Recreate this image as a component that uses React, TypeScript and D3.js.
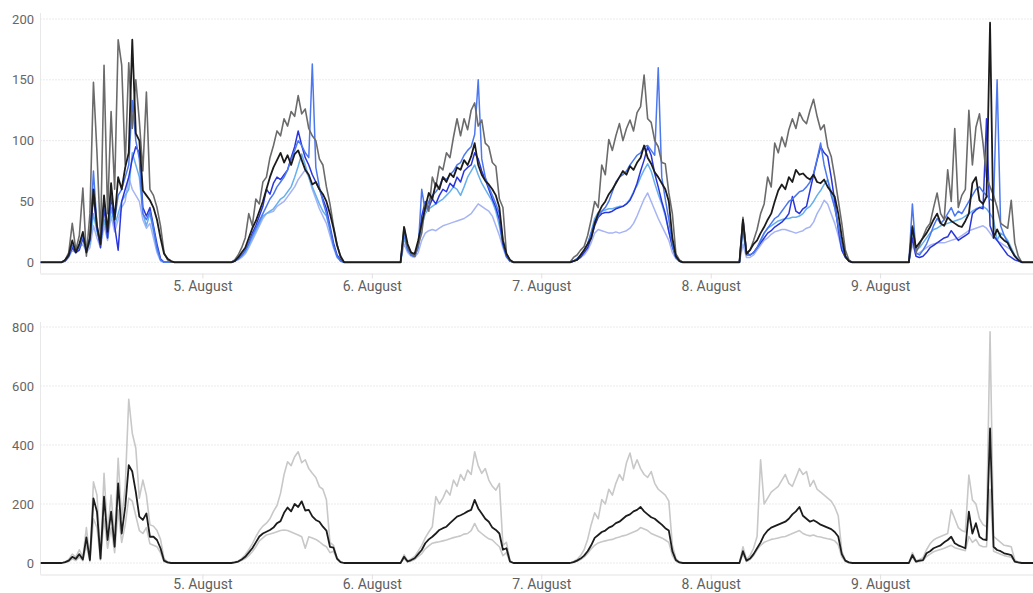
import React from "react";
import * as d3 from "d3";

const WIDTH = 1033;
const HEIGHT = 593;

// Daylight readings, one array per day (4.–9. August), 30-minute steps from 04:00
const dayNumbers = [4, 5, 6, 7, 8, 9];
const dayStartHour = 4;
const stepMinutes = 30;
const rangeStart = Date.UTC(2020, 7, 4, 1, 0);
const rangeEnd = Date.UTC(2020, 7, 9, 21, 35);

const topTicks = [0, 50, 100, 150, 200];
const bottomTicks = [0, 200, 400, 600, 800];

const topGrey = [
  [0, 2, 8, 32, 10, 22, 61, 5, 40, 148, 90, 20, 162, 40, 124, 60, 183, 162, 80, 164, 110, 150, 116, 75, 140, 60, 55, 45, 30, 8, 2, 0, 0],
  [0, 2, 6, 12, 20, 40, 30, 52, 48, 66, 70, 86, 96, 108, 104, 118, 112, 124, 120, 137, 122, 126, 110, 104, 100, 85, 80, 62, 48, 30, 15, 4, 0],
  [0, 29, 12, 8, 5, 14, 24, 48, 42, 70, 62, 79, 76, 90, 86, 103, 118, 104, 118, 109, 125, 131, 112, 117, 98, 95, 82, 79, 52, 45, 7, 2, 0],
  [0, 4, 6, 10, 13, 22, 35, 50, 45, 80, 72, 101, 92, 104, 114, 100, 110, 117, 108, 123, 128, 154, 118, 115, 100, 95, 82, 81, 57, 40, 7, 2, 0],
  [0, 37, 8, 10, 18, 27, 40, 48, 70, 62, 98, 90, 103, 95, 109, 118, 110, 123, 117, 114, 125, 134, 120, 109, 113, 95, 87, 70, 51, 32, 10, 2, 0],
  [0, 30, 8, 14, 21, 28, 32, 45, 57, 40, 35, 76, 50, 110, 45, 55, 60, 125, 80, 111, 122, 98, 70, 62, 55, 45, 32, 30, 28, 51, 16, 5, 0],
];

const topBlack = [
  [0, 2, 6, 18, 8, 15, 25, 8, 20, 60, 30, 15, 55, 25, 65, 35, 70, 60, 78, 90, 183, 106, 100, 59, 55, 51, 45, 35, 20, 7, 3, 1, 0],
  [0, 1, 4, 8, 12, 20, 28, 34, 42, 50, 60, 70, 78, 84, 90, 82, 88, 80, 89, 92, 84, 76, 72, 64, 66, 60, 56, 50, 40, 28, 14, 5, 0],
  [0, 29, 15, 8, 7, 18, 32, 45, 57, 52, 65, 60, 70, 66, 73, 70, 78, 76, 84, 80, 87, 98, 80, 72, 67, 64, 60, 55, 45, 18, 7, 2, 0],
  [0, 1, 2, 6, 10, 15, 20, 32, 40, 46, 50, 56, 60, 65, 70, 75, 72, 79, 76, 82, 86, 96, 86, 81, 74, 70, 65, 60, 50, 20, 5, 1, 0],
  [0, 35, 7, 10, 15, 18, 24, 29, 35, 40, 50, 59, 64, 60, 70, 66, 76, 72, 73, 70, 68, 72, 66, 65, 68, 62, 58, 54, 40, 21, 5, 1, 0],
  [0, 29, 12, 16, 20, 24, 29, 35, 40, 32, 30, 37, 34, 32, 30, 29, 34, 40, 65, 70, 51, 48, 54, 197, 20, 27, 21, 18, 16, 10, 5, 2, 0],
];

const topRoyal = [
  [0, 1, 5, 12, 8, 10, 20, 10, 18, 55, 28, 12, 45, 20, 55, 30, 10, 50, 60, 70, 85, 95, 90, 45, 38, 45, 30, 15, 3, 0, 0, 0, 0],
  [0, 1, 3, 6, 10, 16, 24, 30, 38, 46, 60, 56, 65, 70, 68, 72, 76, 86, 95, 108, 96, 86, 80, 72, 66, 60, 52, 44, 30, 16, 6, 2, 0],
  [0, 25, 12, 6, 5, 15, 38, 50, 45, 52, 48, 55, 60, 58, 65, 62, 70, 66, 75, 78, 80, 90, 85, 75, 68, 60, 52, 45, 35, 15, 5, 1, 0],
  [0, 1, 2, 4, 8, 12, 20, 30, 37, 40, 41, 41, 42, 44, 45, 46, 48, 51, 57, 65, 75, 84, 95, 88, 73, 62, 50, 40, 25, 13, 4, 1, 0],
  [0, 35, 8, 6, 8, 12, 16, 20, 24, 26, 29, 31, 33, 36, 40, 54, 42, 40, 44, 46, 59, 72, 84, 95, 90, 87, 70, 50, 27, 10, 4, 1, 0],
  [0, 20, 5, 4, 5, 8, 12, 14, 16, 18, 20, 21, 26, 22, 18, 20, 22, 24, 40, 43, 45, 44, 118, 30, 22, 18, 14, 10, 6, 4, 2, 1, 0],
];

const topCornflower = [
  [0, 2, 6, 14, 10, 12, 22, 12, 20, 75, 30, 15, 50, 25, 60, 35, 55, 60, 70, 80, 133, 100, 85, 40, 35, 42, 28, 12, 2, 0, 0, 0, 0],
  [0, 1, 3, 6, 10, 16, 22, 28, 34, 40, 46, 52, 56, 62, 66, 70, 76, 84, 92, 100, 96, 90, 86, 163, 78, 62, 50, 40, 28, 14, 5, 1, 0],
  [0, 24, 10, 6, 5, 12, 60, 42, 50, 55, 58, 62, 70, 68, 72, 75, 80, 82, 88, 92, 95, 105, 150, 85, 70, 62, 55, 48, 40, 18, 6, 1, 0],
  [0, 1, 3, 6, 10, 15, 24, 34, 38, 42, 45, 50, 58, 66, 70, 72, 75, 80, 84, 88, 90, 95, 96, 92, 88, 160, 70, 52, 35, 14, 4, 1, 0],
  [0, 30, 6, 6, 8, 12, 18, 24, 28, 32, 36, 38, 42, 46, 50, 52, 55, 58, 59, 62, 66, 73, 85, 98, 80, 68, 55, 45, 30, 14, 5, 1, 0],
  [0, 48, 8, 6, 10, 15, 22, 30, 36, 32, 35, 40, 45, 38, 42, 40, 45, 50, 55, 60, 62, 58, 55, 52, 50, 150, 30, 22, 16, 10, 5, 2, 0],
];

const topSky = [
  [0, 2, 5, 12, 10, 15, 18, 10, 15, 40, 25, 15, 35, 20, 45, 30, 40, 50, 55, 60, 90, 80, 70, 40, 30, 40, 25, 10, 2, 0, 0, 0, 0],
  [0, 1, 3, 5, 8, 14, 20, 26, 32, 38, 40, 42, 44, 48, 52, 54, 58, 62, 70, 79, 89, 80, 70, 62, 55, 48, 42, 38, 26, 14, 5, 1, 0],
  [0, 20, 10, 6, 5, 12, 30, 40, 44, 46, 48, 50, 52, 55, 58, 62, 60, 55, 62, 70, 75, 80, 72, 65, 60, 55, 50, 42, 30, 14, 5, 1, 0],
  [0, 1, 3, 6, 10, 15, 25, 36, 41, 42, 43, 44, 44, 45, 46, 46, 48, 52, 58, 63, 70, 76, 81, 75, 65, 56, 48, 38, 26, 13, 4, 1, 0],
  [0, 25, 6, 6, 8, 12, 18, 24, 28, 30, 32, 34, 35, 36, 36, 37, 37, 38, 40, 44, 46, 50, 55, 59, 64, 68, 58, 45, 30, 14, 5, 1, 0],
  [0, 25, 10, 12, 16, 20, 24, 27, 28, 30, 31, 32, 33, 34, 35, 36, 38, 40, 42, 44, 45, 46, 44, 40, 35, 18, 24, 22, 18, 12, 6, 2, 0],
];

const topLavender = [
  [0, 1, 4, 10, 8, 12, 15, 8, 12, 30, 20, 12, 30, 18, 38, 25, 35, 45, 50, 70, 60, 55, 50, 35, 28, 32, 20, 8, 1, 0, 0, 0, 0],
  [0, 1, 2, 4, 7, 12, 18, 24, 30, 36, 40, 41, 42, 46, 48, 50, 54, 58, 62, 68, 72, 76, 70, 60, 52, 44, 38, 32, 22, 12, 4, 1, 0],
  [0, 15, 8, 5, 4, 8, 18, 24, 26, 27, 26, 28, 30, 31, 32, 33, 34, 35, 36, 38, 40, 44, 48, 46, 44, 42, 38, 30, 22, 12, 4, 1, 0],
  [0, 1, 2, 4, 6, 10, 16, 24, 27, 26, 25, 24, 24, 25, 24, 25, 26, 28, 32, 38, 45, 52, 57, 50, 43, 36, 30, 24, 18, 8, 3, 1, 0],
  [0, 15, 4, 4, 6, 10, 14, 18, 20, 23, 25, 26, 27, 27, 26, 25, 24, 25, 26, 28, 29, 33, 40, 45, 51, 48, 40, 32, 22, 10, 4, 1, 0],
  [0, 15, 6, 8, 10, 12, 14, 15, 16, 16, 16, 17, 18, 19, 20, 22, 24, 26, 27, 28, 29, 30, 28, 24, 20, 18, 16, 14, 12, 10, 5, 2, 0],
];

const bottomMax = [
  [0, 4, 12, 30, 20, 45, 20, 120, 15, 275, 230, 25, 304, 100, 230, 80, 355, 150, 260, 555, 440, 389, 220, 281, 230, 130, 125, 110, 80, 15, 4, 0, 0],
  [0, 3, 7, 15, 28, 45, 65, 89, 110, 125, 135, 150, 175, 195, 236, 300, 343, 330, 360, 377, 340, 350, 320, 304, 290, 259, 250, 214, 70, 60, 18, 4, 0],
  [0, 28, 7, 14, 22, 40, 60, 85, 105, 123, 225, 200, 220, 247, 230, 281, 260, 300, 280, 315, 300, 377, 330, 304, 320, 281, 260, 247, 270, 60, 70, 8, 0],
  [0, 5, 12, 25, 45, 80, 130, 170, 150, 215, 200, 250, 230, 270, 300, 280, 340, 373, 320, 350, 320, 300, 290, 310, 270, 250, 240, 230, 210, 60, 15, 3, 0],
  [0, 55, 12, 25, 50, 90, 350, 200, 220, 240, 250, 260, 280, 300, 270, 260, 290, 320, 300, 310, 260, 280, 250, 240, 230, 220, 210, 190, 160, 40, 10, 2, 0],
  [0, 35, 8, 12, 18, 45, 65, 78, 85, 90, 95, 100, 180, 151, 120, 110, 105, 298, 214, 200, 150, 130, 123, 784, 90, 80, 70, 60, 58, 55, 10, 3, 0],
];

const bottomMean = [
  [0, 3, 8, 21, 14, 30, 12, 87, 10, 219, 174, 15, 225, 78, 174, 55, 270, 100, 190, 332, 310, 241, 157, 146, 168, 89, 89, 78, 50, 8, 2, 0, 0],
  [0, 2, 5, 12, 21, 35, 50, 70, 90, 100, 106, 112, 120, 135, 142, 170, 188, 175, 200, 190, 209, 178, 180, 158, 146, 140, 123, 110, 55, 52, 15, 3, 0],
  [0, 21, 5, 10, 16, 30, 44, 67, 80, 89, 100, 112, 118, 123, 135, 146, 157, 162, 168, 175, 180, 214, 185, 168, 150, 140, 120, 112, 100, 45, 50, 5, 0],
  [0, 3, 8, 15, 25, 40, 60, 85, 95, 105, 110, 120, 125, 135, 140, 150, 160, 165, 175, 180, 190, 175, 165, 155, 150, 140, 130, 118, 110, 40, 10, 2, 0],
  [0, 40, 8, 15, 30, 50, 70, 95, 110, 120, 125, 130, 135, 140, 150, 165, 175, 190, 160, 150, 140, 145, 138, 130, 125, 120, 115, 105, 90, 30, 8, 2, 0],
  [0, 27, 5, 8, 10, 33, 40, 50, 55, 60, 70, 78, 89, 67, 60, 55, 50, 174, 100, 135, 89, 80, 78, 456, 55, 44, 40, 33, 30, 27, 5, 2, 0],
];

const bottomMin = [
  [0, 2, 5, 14, 8, 20, 8, 60, 5, 150, 120, 10, 150, 50, 120, 35, 180, 70, 130, 220, 210, 160, 110, 100, 120, 65, 60, 55, 35, 4, 1, 0, 0],
  [0, 1, 4, 9, 15, 25, 38, 55, 75, 85, 95, 98, 102, 106, 110, 112, 110, 105, 100, 95, 89, 50, 89, 85, 80, 72, 62, 55, 35, 40, 12, 2, 0],
  [0, 15, 3, 7, 12, 22, 32, 48, 58, 67, 70, 72, 75, 78, 82, 86, 89, 92, 98, 100, 110, 134, 110, 100, 90, 82, 78, 66, 55, 25, 35, 3, 0],
  [0, 2, 6, 12, 20, 32, 48, 60, 68, 72, 75, 78, 80, 85, 88, 92, 95, 100, 105, 110, 120, 115, 110, 100, 95, 90, 85, 78, 70, 25, 6, 1, 0],
  [0, 30, 5, 12, 25, 45, 60, 70, 75, 80, 82, 85, 88, 90, 95, 100, 105, 110, 100, 95, 92, 95, 90, 88, 85, 82, 80, 75, 62, 20, 5, 1, 0],
  [0, 20, 3, 5, 8, 22, 30, 38, 42, 46, 50, 55, 60, 52, 48, 45, 42, 90, 70, 80, 60, 55, 55, 250, 40, 35, 30, 25, 22, 20, 4, 1, 0],
];

type Pt = { t: Date; v: number };

// Night hours read as zero; the domain edges carry that zero level too.
function toPoints(days: number[][]): Pt[] {
  const pts: Pt[] = [{ t: new Date(rangeStart), v: 0 }];
  days.forEach((vals, k) => {
    const base = Date.UTC(2020, 7, dayNumbers[k], dayStartHour);
    vals.forEach((v, i) => pts.push({ t: new Date(base + i * stepMinutes * 60000), v }));
  });
  pts.push({ t: new Date(rangeEnd), v: 0 });
  return pts;
}

const plotLeft = 40.5;
const plotRight = WIDTH;
const x = d3.scaleUtc().domain([new Date(rangeStart), new Date(rangeEnd)]).range([plotLeft, plotRight]);
const dayTicks = x.ticks(d3.utcDay.every(1)!);
const fmtDay = d3.utcFormat("%-d. %B");

const FONT = "Roboto, 'Noto Sans', Arial, sans-serif";

type SeriesDef = { key: string; days: number[][]; color: string; width: number };

function Panel(props: {
  id: string;
  y: d3.ScaleLinear<number, number>;
  ticks: number[];
  top: number;
  axisY: number;
  labelY: number;
  series: SeriesDef[];
}) {
  const { id, y, ticks, top, axisY, labelY, series } = props;
  const line = d3
    .line<Pt>()
    .x((d) => x(d.t))
    .y((d) => y(d.v));
  return (
    <g>
      <defs>
        <clipPath id={id}>
          <rect x={plotLeft} y={top - 10} width={plotRight - plotLeft} height={axisY - top + 10} />
        </clipPath>
      </defs>
      {ticks.map((t) => (
        <g key={t}>
          <line
            x1={plotLeft}
            x2={plotRight}
            y1={y(t)}
            y2={y(t)}
            stroke="#d6d6d6"
            strokeWidth={1}
            strokeDasharray="1 2"
          />
          <text
            x={34}
            y={y(t)}
            dy="0.35em"
            textAnchor="end"
            fontSize={13}
            fontFamily={FONT}
            fill="#666"
          >
            {t}
          </text>
        </g>
      ))}
      <line x1={plotLeft} x2={plotLeft} y1={top} y2={axisY} stroke="#e8e8e8" strokeWidth={1} />
      <line x1={plotLeft} x2={plotRight} y1={axisY + 0.5} y2={axisY + 0.5} stroke="#e3e3e3" strokeWidth={1} />
      {dayTicks.map((d) => (
        <g key={+d}>
          <line x1={x(d)} x2={x(d)} y1={axisY} y2={axisY + 5} stroke="#e0e0e0" strokeWidth={1} />
          <text
            x={x(d)}
            y={labelY}
            textAnchor="middle"
            fontSize={14}
            fontFamily={FONT}
            fill="#606060"
          >
            {fmtDay(d)}
          </text>
        </g>
      ))}
      <g clipPath={`url(#${id})`}>
        {series.map((s) => (
          <path
            key={s.key}
            d={line(toPoints(s.days)) ?? ""}
            fill="none"
            stroke={s.color}
            strokeWidth={s.width}
            strokeLinejoin="round"
          />
        ))}
      </g>
    </g>
  );
}

export default function App() {
  const yTop = d3.scaleLinear().domain([0, 200]).range([262.3, 19]);
  const yBottom = d3.scaleLinear().domain([0, 800]).range([563, 327]);

  const topSeries: SeriesDef[] = [
    { key: "lavender", days: topLavender, color: "#a6b4f4", width: 1.5 },
    { key: "sky", days: topSky, color: "#66b0ee", width: 1.5 },
    { key: "royal", days: topRoyal, color: "#2a36dc", width: 1.5 },
    { key: "cornflower", days: topCornflower, color: "#4c78ef", width: 1.5 },
    { key: "grey", days: topGrey, color: "#6b6b6b", width: 1.6 },
    { key: "black", days: topBlack, color: "#1c1c1c", width: 1.8 },
  ];
  const bottomSeries: SeriesDef[] = [
    { key: "max", days: bottomMax, color: "#c8c8c8", width: 1.6 },
    { key: "min", days: bottomMin, color: "#c8c8c8", width: 1.6 },
    { key: "mean", days: bottomMean, color: "#1c1c1c", width: 1.8 },
  ];

  return (
    <svg
      width={WIDTH}
      height={HEIGHT}
      style={{ position: "absolute", left: 0, top: 0, background: "#fff" }}
    >
      <rect width={WIDTH} height={HEIGHT} fill="#fff" />
      <Panel id="clip-top" y={yTop} ticks={topTicks} top={13} axisY={273.5} labelY={291} series={topSeries} />
      <Panel
        id="clip-bottom"
        y={yBottom}
        ticks={bottomTicks}
        top={322}
        axisY={574.5}
        labelY={589}
        series={bottomSeries}
      />
    </svg>
  );
}
